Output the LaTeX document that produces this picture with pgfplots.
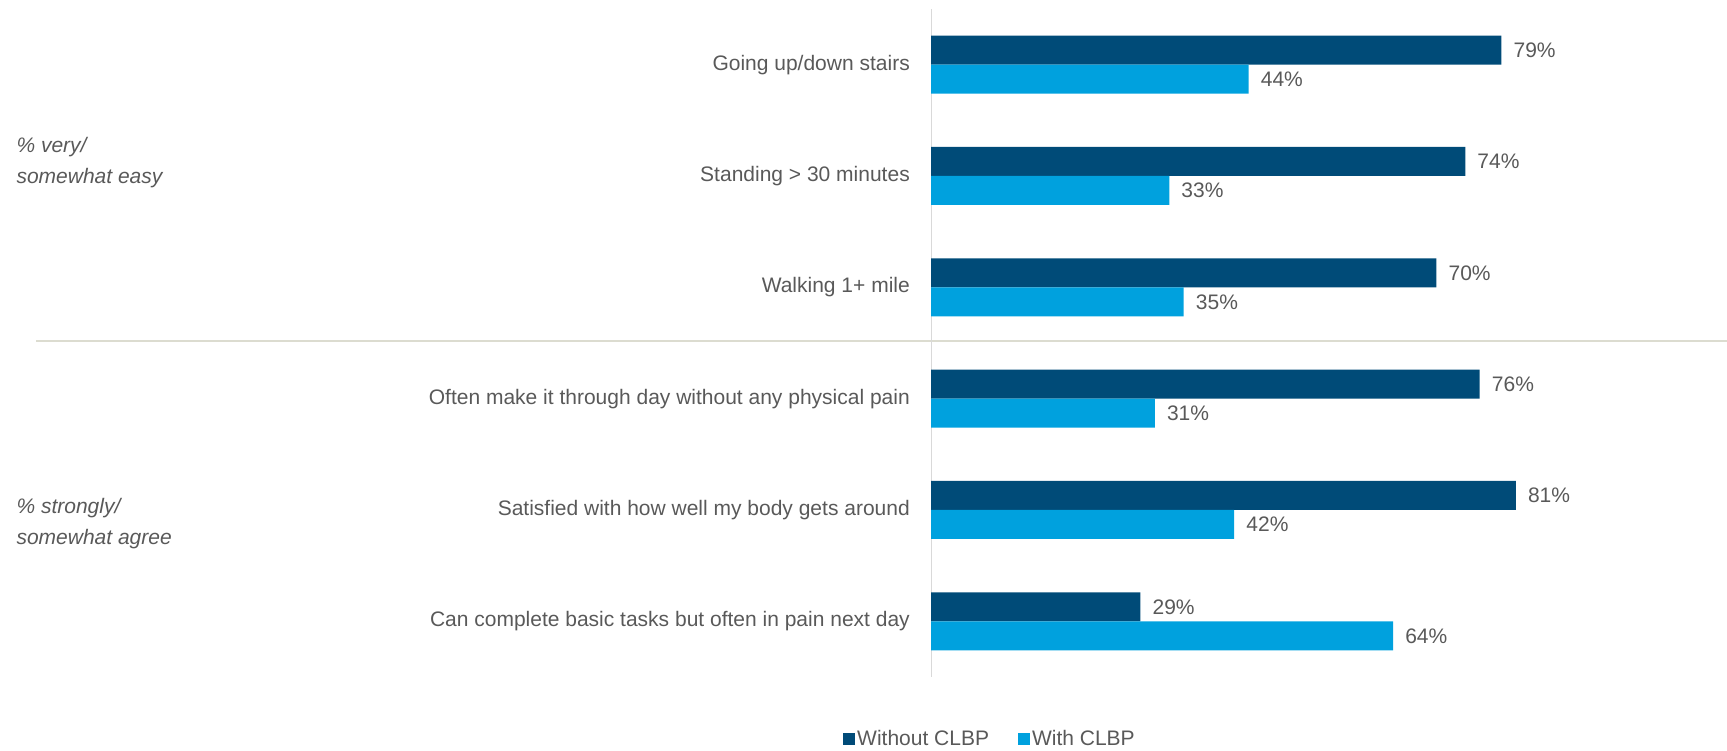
\documentclass[border=0pt]{standalone}
\usepackage{fontspec}
\setmainfont{Liberation Sans}
\usepackage{pgfplots}
\pgfplotsset{compat=1.18}
\definecolor{darkbar}{HTML}{004B78}
\definecolor{lightbar}{HTML}{00A1DE}
\definecolor{txt}{HTML}{595959}
\definecolor{sepline}{HTML}{DCDCD0}
\definecolor{axisline}{HTML}{D9D9D9}
\newcommand{\bigfont}{\fontsize{21}{31}\selectfont}
\begin{document}
\begin{tikzpicture}
  % picture frame, 1 px = 1 pt
  \path[use as bounding box] (0pt,0pt) rectangle (1727pt,751pt);
  \draw[sepline, line width=2pt] (36pt,410pt) -- (1727pt,410pt);
  \node[anchor=west, align=left, text=txt, font=\bigfont\itshape] at (13pt,588pt) {\% very/\\somewhat easy};
  \node[anchor=west, align=left, text=txt, font=\bigfont\itshape] at (13pt,227pt) {\% strongly/\\somewhat agree};
  \begin{axis}[
      at={(931pt,74pt)}, anchor=south west,
      scale only axis,
      width=722pt, height=668pt,
      xmin=0, xmax=100,
      ymin=0.5, ymax=6.5,
      xbar, bar width=29pt,
      axis x line=none,
      axis y line*=left,
      y axis line style={axisline, line width=1pt, -},
      ytick={1,2,3,4,5,6},
      yticklabels={Can complete basic tasks but often in pain next day,
                   Satisfied with how well my body gets around,
                   Often make it through day without any physical pain,
                   Walking 1+ mile,
                   Standing > 30 minutes,
                   Going up/down stairs},
      major tick length=0pt,
      ytick style={draw=none},
      yticklabel style={font=\bigfont, text=txt, anchor=east, inner sep=0pt, xshift=-21pt},
      /pgf/number format/assume math mode=true,
      nodes near coords={\pgfmathprintnumber{\pgfplotspointmeta}\%},
      every node near coord/.append style={font=\bigfont, text=txt, anchor=west, inner sep=0pt, xshift=12pt},
      legend columns=2,
      legend style={at={(0.0817,-0.0928)}, anchor=center, draw=none, fill=none,
                    font=\bigfont, text=txt,
                    /tikz/every even column/.append style={column sep=27pt}},
      legend image code/.code={\fill[#1] (0pt,-6pt) rectangle (12pt,6pt);},
      clip=false,
    ]
    \addplot[fill=darkbar, draw=none, bar shift=14.5pt] coordinates {
      (29,1) (81,2) (76,3) (70,4) (74,5) (79,6)
    };
    \addplot[fill=lightbar, draw=none, bar shift=-14.5pt] coordinates {
      (64,1) (42,2) (31,3) (35,4) (33,5) (44,6)
    };
    \legend{Without CLBP, With CLBP}
  \end{axis}
\end{tikzpicture}
\end{document}
